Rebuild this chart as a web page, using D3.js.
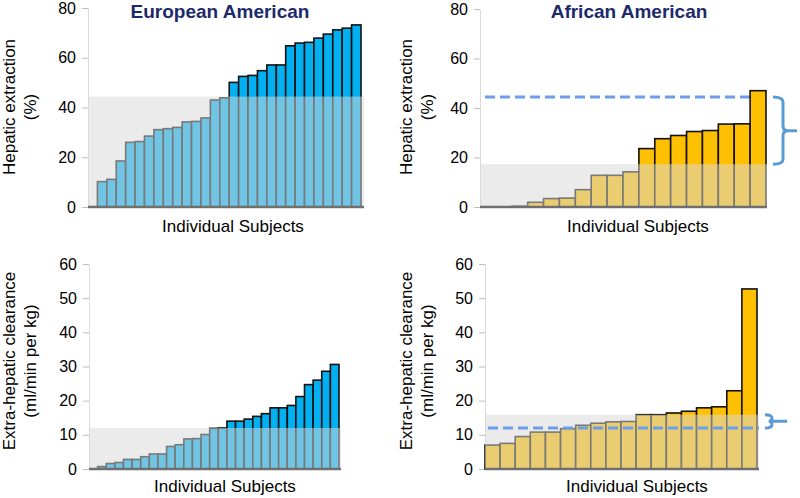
<!DOCTYPE html>
<html>
  <head>
    <meta charset="utf-8" />
    <title>Hepatic extraction by subject</title>
    <script src="https://d3js.org/d3.v7.min.js"></script>
    <style>
      body {
        margin: 0;
        background: #fff;
      }
      text {
        font-family: "Liberation Sans", Arial, sans-serif;
      }
    </style>
  </head>
  <body>

    <svg id="chart"></svg>

    <script>

      // values, sorted per subject
      var eaHepatic = [0, 10.2, 11.1, 18.5, 26.0, 26.3, 28.5, 31.1, 31.5, 32.0, 34.2, 34.4, 35.8, 43.0, 43.9,
        50.1, 52.5, 52.9, 54.8, 57.1, 57.1, 64.8, 65.9, 66.2, 67.9, 69.5, 71.2, 71.9, 73.2];
      var aaHepatic = [0, 0, 0.3, 1.9, 3.4, 3.6, 7.0, 12.8, 12.8, 14.2, 23.6, 27.6, 28.9, 30.5, 30.9, 33.5, 33.6, 47.0];
      var eaExtra = [0, 0.7, 1.6, 1.9, 2.8, 2.8, 3.6, 4.4, 4.4, 6.6, 7.1, 8.8, 8.9, 10.1, 11.9, 12.0,
        14.0, 14.0, 14.6, 15.4, 16.2, 17.9, 17.9, 18.6, 21.2, 24.7, 26.0, 28.6, 30.6];
      var aaExtra = [7.0, 7.5, 9.5, 10.8, 10.8, 11.8, 12.8, 13.4, 13.8, 13.9, 15.9, 15.9, 16.4, 16.9, 17.9, 18.2, 22.9, 52.7];

      // shaded cut-offs (the EA cut-off is repeated as the dashed line in the AA panels)
      var eaHepaticCut = 44.4;
      var aaHepaticCut = 17.3;
      var eaExtraCut = 12.0;
      var aaExtraCut = 15.9;

      var hepaticTicks = [0, 20, 40, 60, 80];
      var extraTicks = [0, 10, 20, 30, 40, 50, 60];

      var titles = ["European American", "African American"];
      var xLabel = "Individual Subjects";
      var hepaticLabel = ["Hepatic extraction", "(%)"];
      var extraLabel = ["Extra-hepatic clearance", "(ml/min per kg)"];

      var width = 800;
      var height = 498;

      var svg = d3.select("#chart")
        .attr("width", width)
        .attr("height", height);

      var blue = "#00b0f0";
      var gold = "#ffc000";
      var braceColor = "#5b9bd5";
      var dashColor = "#6d9eeb";

      function panel(o) {
        var g = svg.append("g");

        var x = d3.scaleBand()
          .domain(d3.range(o.values.length))
          .range([o.left, o.barsRight])
          .padding(0);

        var y = d3.scaleLinear()
          .domain([0, o.max])
          .range([o.bottom, o.top]);

        // y axis: pale line with short ticks
        var yAxis = d3.axisLeft(y)
          .tickValues(o.ticks)
          .tickSize(6)
          .tickSizeOuter(0)
          .tickPadding(6);

        var ax = g.append("g")
          .attr("transform", "translate(" + o.left + ",0)")
          .call(yAxis);
        ax.select(".domain").attr("stroke", "#d9d9d9").attr("stroke-width", 1);
        ax.selectAll(".tick line").attr("stroke", "#bfbfbf");
        ax.selectAll(".tick text")
          .attr("fill", "#000")
          .style("font-size", "16px")
          .style("font-family", "'Liberation Sans', Arial, sans-serif");

        // dashed reference drawn behind the bars
        if (o.ref != null && !o.refOnTop) drawRef();

        g.append("g").selectAll("rect")
          .data(o.values)
          .join("rect")
          .attr("x", function(d, i) { return x(i); })
          .attr("width", x.bandwidth())
          .attr("y", function(d) { return y(d); })
          .attr("height", function(d) { return y(0) - y(d); })
          .attr("fill", o.color)
          .attr("stroke", "#111")
          .attr("stroke-width", 1.6);

        // translucent grey shading up to the cut-off
        g.append("rect")
          .attr("x", o.left)
          .attr("width", o.lineRight - o.left)
          .attr("y", y(o.cut))
          .attr("height", y(0) - y(o.cut))
          .attr("fill", "#d8d8d8")
          .attr("opacity", 0.52);

        if (o.ref != null && o.refOnTop) drawRef();

        // baseline
        g.append("line")
          .attr("x1", o.left)
          .attr("x2", o.lineRight)
          .attr("y1", y(0))
          .attr("y2", y(0))
          .attr("stroke", "#6f6f6f")
          .attr("stroke-width", 2.5);

        if (o.brace) {
          var b = o.brace;
          var yt = y(o.ref), yb = y(o.cut), ym = (yt + yb) / 2;
          var r = Math.min(5, (yb - yt) / 4);
          var p = d3.path();
          p.moveTo(b.x - b.w, yt);
          p.quadraticCurveTo(b.x, yt, b.x, yt + r);
          p.lineTo(b.x, ym - r);
          p.quadraticCurveTo(b.x, ym, b.x + r, ym);
          p.lineTo(b.tip, ym);
          p.moveTo(b.x + r, ym);
          p.quadraticCurveTo(b.x, ym, b.x, ym + r);
          p.lineTo(b.x, yb - r);
          p.quadraticCurveTo(b.x, yb, b.x - b.w, yb);
          g.append("path")
            .attr("d", p.toString())
            .attr("fill", "none")
            .attr("stroke", braceColor)
            .attr("stroke-width", 3);
        }

        // x label
        g.append("text")
          .attr("x", o.xLabelX)
          .attr("y", o.xLabelY)
          .attr("text-anchor", "middle")
          .style("font-size", "17px")
          .text(xLabel);

        // y label, two rotated lines
        o.yLabel.forEach(function(t, i) {
          g.append("text")
            .attr("transform", "translate(" + o.yLabelX[i] + "," + o.yLabelMid + ") rotate(-90)")
            .attr("text-anchor", "middle")
            .style("font-size", "17px")
            .text(t);
        });

        if (o.title) {
          g.append("text")
            .attr("x", o.titleX)
            .attr("y", 18)
            .attr("text-anchor", "middle")
            .attr("fill", "#1c2a6b")
            .style("font-size", "19px")
            .style("font-weight", "bold")
            .text(o.title);
        }

        function drawRef() {
          g.append("line")
            .attr("x1", o.refFrom)
            .attr("x2", o.lineRight)
            .attr("y1", y(o.ref))
            .attr("y2", y(o.ref))
            .attr("stroke", dashColor)
            .attr("stroke-width", 3)
            .attr("stroke-dasharray", "10,5");
        }
      }

      panel({
        values: eaHepatic, cut: eaHepaticCut, color: blue,
        max: 80, ticks: hepaticTicks,
        left: 88, barsRight: 361, lineRight: 364, bottom: 207, top: 8,
        title: titles[0], titleX: 220,
        xLabelX: 233, xLabelY: 232,
        yLabel: hepaticLabel, yLabelX: [15, 36], yLabelMid: 107
      });

      panel({
        values: aaHepatic, cut: aaHepaticCut, color: gold,
        max: 80, ticks: hepaticTicks,
        left: 480, barsRight: 766, lineRight: 767, bottom: 207, top: 9,
        ref: eaHepaticCut, refOnTop: false, refFrom: 485,
        brace: { x: 783, w: 10, tip: 797 },
        title: titles[1], titleX: 629,
        xLabelX: 638, xLabelY: 232,
        yLabel: hepaticLabel, yLabelX: [412, 433], yLabelMid: 107
      });

      panel({
        values: eaExtra, cut: eaExtraCut, color: blue,
        max: 60, ticks: extraTicks,
        left: 89, barsRight: 339, lineRight: 341, bottom: 469, top: 264,
        xLabelX: 225, xLabelY: 492,
        yLabel: extraLabel, yLabelX: [15, 36], yLabelMid: 361
      });

      panel({
        values: aaExtra, cut: aaExtraCut, color: gold,
        max: 60, ticks: extraTicks,
        left: 485, barsRight: 757, lineRight: 759, bottom: 469, top: 264,
        ref: eaExtraCut, refOnTop: true, refFrom: 488,
        brace: { x: 772, w: 7, tip: 787 },
        xLabelX: 637, xLabelY: 492,
        yLabel: extraLabel, yLabelX: [412, 433], yLabelMid: 361
      });

    </script>
  </body>
</html>
